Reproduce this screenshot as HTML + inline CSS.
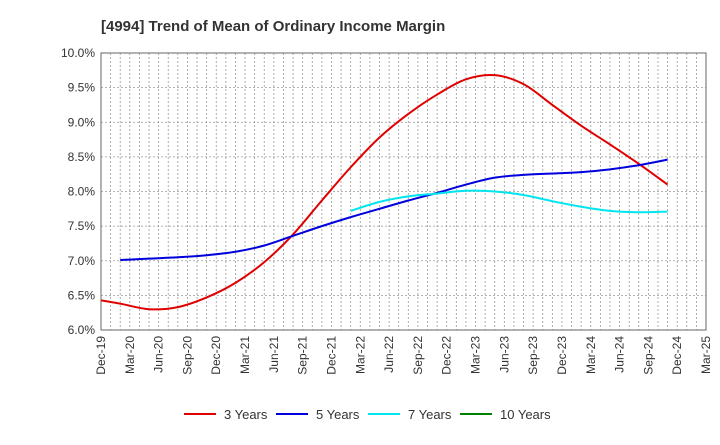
<!DOCTYPE html>
<html><head><meta charset="utf-8"><style>
body{margin:0;background:#fff;font-family:"Liberation Sans",sans-serif}
</style></head><body>
<svg id="c" width="720" height="440" xmlns="http://www.w3.org/2000/svg">
<defs><clipPath id="pc"><rect x="101" y="53" width="605" height="277"/></clipPath></defs>
<text x="101" y="31" font-size="15" font-weight="bold" fill="#333">[4994]  Trend of Mean of Ordinary Income Margin</text>
<g id="grid"></g><g id="axes"></g><g id="lines" clip-path="url(#pc)"></g><g id="legend"></g>
</svg>
<script>
const xLabels=["Dec-19","Mar-20","Jun-20","Sep-20","Dec-20","Mar-21","Jun-21","Sep-21","Dec-21","Mar-22","Jun-22","Sep-22","Dec-22","Mar-23","Jun-23","Sep-23","Dec-23","Mar-24","Jun-24","Sep-24","Dec-24","Mar-25"];
const yTicks=[6.0,6.5,7.0,7.5,8.0,8.5,9.0,9.5,10.0];
const y3=[6.45,6.38,6.3,6.33,6.47,6.68,6.98,7.38,7.87,8.35,8.78,9.12,9.4,9.62,9.68,9.55,9.25,8.95,8.68,8.4,8.1];
const y5=[null,7.01,7.03,7.05,7.08,7.13,7.22,7.36,7.5,7.63,7.75,7.87,7.98,8.1,8.2,8.24,8.26,8.28,8.32,8.38,8.46];
const y7=[null,null,null,null,null,null,null,null,null,7.72,7.85,7.93,7.97,8.01,8.0,7.95,7.86,7.78,7.72,7.7,7.71];
const y10=[];
const L=101,R=706,T=53,B=330;
const months=(xLabels.length-1)*3;
const XM=m=>L+(R-L)*m/months;
const X=i=>XM(i*3);
const XD=i=>XM(i*3-1);
const Y=v=>B-(B-T)*(v-6)/4;
const NS="http://www.w3.org/2000/svg";
function mk(t,a,p){const e=document.createElementNS(NS,t);for(const k in a)e.setAttribute(k,a[k]);p.appendChild(e);return e;}
const g=document.getElementById('grid'),ax=document.getElementById('axes'),ln=document.getElementById('lines'),lg=document.getElementById('legend');
for(let m=0;m<=months;m++){const x=XM(m);const e=mk('line',{x1:x,x2:x,y1:T,y2:B,stroke:'#999','stroke-dasharray':'2,2','stroke-width':0.8},g);

}
yTicks.forEach(v=>{const e=mk('line',{x1:L,x2:R,y1:Y(v),y2:Y(v),stroke:'#999','stroke-dasharray':'2,2','stroke-width':0.8},g);


const t=mk('text',{x:L-6,y:Y(v)+4,'text-anchor':'end','font-size':12,fill:'#333'},ax);t.textContent=v.toFixed(1)+'%';

});
const fr=mk('rect',{x:L,y:T,width:R-L,height:B-T,fill:'none',stroke:'#666'},ax);


xLabels.forEach((s,i)=>{const t=mk('text',{transform:`translate(${X(i)+4},${B+6}) rotate(-90)`,'text-anchor':'end','font-size':12,fill:'#333'},ax);t.textContent=s;

});
function path(arr){const p=[];arr.forEach((v,i)=>{if(v!=null)p.push([XD(i),Y(v)]);});if(p.length<2)return '';
let d=`M${p[0][0]},${p[0][1]}`;for(let i=0;i<p.length-1;i++){const p0=p[i-1]||p[i],p1=p[i],p2=p[i+1],p3=p[i+2]||p2;
d+=` C${p1[0]+(p2[0]-p0[0])/6},${p1[1]+(p2[1]-p0[1])/6} ${p2[0]-(p3[0]-p1[0])/6},${p2[1]-(p3[1]-p1[1])/6} ${p2[0]},${p2[1]}`;}return d;}
const series=[[y3,'#e00000','3 Years','line-3-years'],[y5,'#0000dd','5 Years','line-5-years'],[y7,'#00e5ee','7 Years','line-7-years'],[y10,'#008000','10 Years','line-10-years']];
series.forEach(s=>{const d=path(s[0]);if(d){const e=mk('path',{d:d,fill:'none',stroke:s[1],'stroke-width':2},ln);

}});
const lx=[184,276,368,460];
series.forEach((s,i)=>{const gg=mk('g',{},lg);


mk('line',{x1:lx[i],x2:lx[i]+32,y1:414,y2:414,stroke:s[1],'stroke-width':2},gg);
const t=mk('text',{x:lx[i]+40,y:419,'font-size':13,fill:'#333'},gg);t.textContent=s[2];});
</script>
</body></html>
